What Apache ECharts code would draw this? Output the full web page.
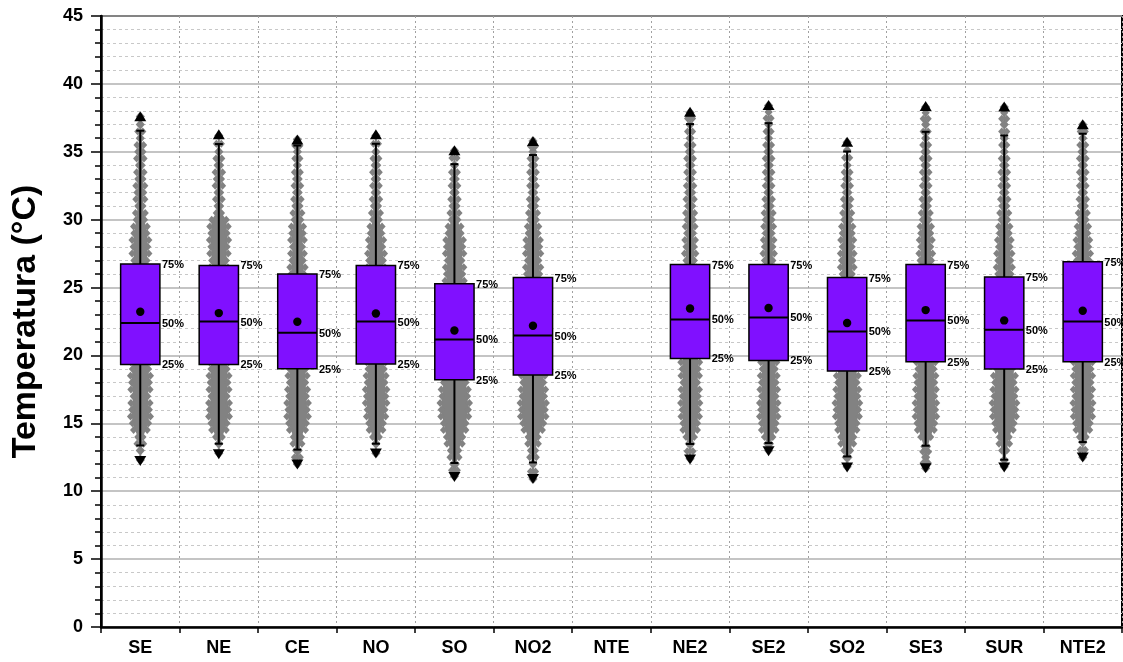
<!DOCTYPE html>
<html><head><meta charset="utf-8">
<script src="https://cdn.jsdelivr.net/npm/echarts@6/dist/echarts.min.js"></script>
<style>html,body{margin:0;padding:0;background:#fff}#c{width:1123px;height:662px}</style>
</head><body><div id="c"></div>
<script>
const categories = ['SE','NE','CE','NO','SO','NO2','NTE','NE2','SE2','SO2','SE3','SUR','NTE2'];
const minVals    = [12.27,12.76,12.00,12.81,11.09,10.94,null,12.37,12.98,11.78,11.73,11.78,12.52];
const lowWhisker = [13.37,13.50,13.06,13.50,12.08,12.12,null,13.48,13.55,12.56,13.35,12.32,13.62];
const q1Vals     = [19.34,19.34,19.02,19.37,18.21,18.56,null,19.78,19.63,18.85,19.54,19.00,19.54];
const medianVals = [22.39,22.50,21.67,22.50,21.18,21.47,null,22.65,22.80,21.77,22.58,21.89,22.50];
const meanVals   = [23.22,23.12,22.48,23.09,21.84,22.19,null,23.46,23.49,22.39,23.34,22.58,23.29];
const q3Vals     = [26.73,26.63,25.99,26.63,25.28,25.74,null,26.70,26.70,25.74,26.70,25.77,26.90];
const highWhisker= [36.55,35.57,35.46,35.59,34.09,34.76,null,37.04,37.11,35.02,36.47,36.20,36.33];
const maxVals    = [37.58,36.25,35.86,36.25,35.07,35.76,null,37.92,38.41,35.71,38.34,38.29,36.99];
const quantileLabels = ['25%','50%','75%'];
// spread of the raw-data point cloud at several temperatures (relative to box half-width)
const cloudSE  = [[12.3,0.15],[13,0.25],[14,0.35],[15,0.7],[16,0.75],[17,0.65],[18,0.75],[19,0.7],[23,0.7],[27,0.6],[28,0.65],[29,0.6],[30,0.45],[31,0.35],[32,0.4],[33,0.35],[34,0.3],[35,0.35],[36,0.25],[37,0.2],[37.6,0.12]];
const cloudNE  = [[12.8,0.15],[13.5,0.25],[14,0.4],[15,0.7],[16,0.8],[17,0.7],[18,0.75],[19,0.7],[23,0.7],[27,0.65],[28,0.7],[29,0.7],[30,0.65],[30.5,0.35],[31,0.3],[32,0.3],[33,0.35],[34,0.3],[35,0.25],[36.2,0.12]];
const cloudCE  = [[12,0.2],[13,0.3],[14,0.45],[15,0.75],[16,0.8],[17,0.75],[18,0.7],[19,0.7],[23,0.7],[26,0.6],[27,0.55],[28,0.5],[29,0.55],[30,0.4],[31,0.35],[32,0.3],[33,0.3],[34,0.25],[35,0.2],[35.9,0.12]];
const cloudNO  = [[12.8,0.15],[13.5,0.25],[14,0.4],[15,0.65],[16,0.75],[17,0.8],[18,0.75],[19,0.7],[23,0.7],[27,0.65],[28,0.6],[29,0.55],[30,0.4],[31,0.35],[32,0.3],[33,0.3],[34,0.3],[35,0.25],[36.2,0.12]];
const cloudSO  = [[11.1,0.15],[12,0.3],[13,0.45],[14,0.7],[15,0.9],[16,1.05],[17,1.0],[18,0.9],[22,0.8],[25,0.7],[26,0.7],[27,0.65],[28,0.7],[29,0.6],[30,0.4],[31,0.35],[32,0.3],[33,0.3],[34,0.25],[35.1,0.12]];
const cloudNO2 = [[10.9,0.15],[12,0.25],[13,0.35],[14,0.5],[15,0.85],[16,0.95],[17,0.9],[18,0.85],[22,0.8],[26,0.6],[27,0.55],[28,0.6],[29,0.5],[30,0.4],[31,0.35],[32,0.3],[33,0.3],[34,0.3],[35,0.25],[35.8,0.12]];
const cloudNTE = [];
const cloudNE2 = [[12.4,0.15],[13.5,0.3],[14,0.45],[15,0.65],[16,0.7],[17,0.7],[18,0.65],[19,0.7],[23,0.6],[27,0.45],[28,0.45],[29,0.4],[30,0.4],[31,0.35],[32,0.35],[33,0.3],[34,0.3],[35,0.3],[36,0.25],[37,0.2],[37.9,0.12]];
const cloudSE2 = [[13,0.15],[13.5,0.3],[14,0.45],[15,0.65],[16,0.7],[17,0.65],[18,0.65],[19,0.6],[23,0.6],[27,0.45],[28,0.45],[29,0.4],[30,0.4],[31,0.35],[32,0.3],[33,0.3],[34,0.3],[35,0.3],[36,0.25],[37,0.2],[38.4,0.12]];
const cloudSO2 = [[11.8,0.15],[12.5,0.3],[13,0.4],[14,0.6],[15,0.8],[16,0.9],[17,0.85],[18,0.8],[22,0.7],[26,0.5],[27,0.55],[28,0.5],[29,0.5],[30,0.4],[31,0.35],[32,0.3],[33,0.3],[34,0.25],[35.7,0.12]];
const cloudSE3 = [[11.7,0.15],[12.5,0.2],[13.3,0.3],[14,0.5],[15,0.75],[16,0.8],[17,0.75],[18,0.75],[19,0.7],[23,0.7],[27,0.55],[28,0.5],[29,0.5],[30,0.4],[31,0.35],[32,0.3],[33,0.3],[34,0.3],[35,0.3],[36,0.25],[37,0.2],[38.3,0.12]];
const cloudSUR = [[11.8,0.15],[12.3,0.25],[13,0.35],[14,0.5],[15,0.8],[16,0.9],[17,0.85],[18,0.8],[22,0.7],[26,0.6],[27,0.6],[28,0.55],[29,0.5],[30,0.4],[31,0.35],[32,0.3],[33,0.3],[34,0.3],[35,0.25],[36,0.25],[37,0.2],[38.3,0.12]];
const cloudNTE2= [[12.5,0.15],[13.6,0.25],[14,0.4],[15,0.65],[16,0.75],[17,0.7],[18,0.7],[19,0.7],[23,0.7],[27,0.6],[28,0.55],[29,0.5],[30,0.4],[31,0.35],[32,0.3],[33,0.3],[34,0.3],[35,0.3],[36,0.25],[37,0.12]];
const clouds = [cloudSE,cloudNE,cloudCE,cloudNO,cloudSO,cloudNO2,cloudNTE,cloudNE2,cloudSE2,cloudSO2,cloudSE3,cloudSUR,cloudNTE2];

const chart = echarts.init(document.getElementById('c'), null, {renderer:'canvas'});
const FONT = 'Arial, "Liberation Sans", sans-serif';
const GRAY = '#828282';

function diamond(x, y, r) {
  return {type:'polygon', shape:{points:[[x,y-r],[x+r*0.9,y],[x,y+r],[x-r*0.9,y]]}, style:{fill:GRAY}};
}

function cloudItem(params, api) {
  const i = api.value(0);
  const prof = clouds[i];
  if (!prof || !prof.length) return null;
  const cx = api.coord([i, 0])[0];
  const unit = api.size([1, 0])[0] * 0.25 * 0.82;
  const pts = prof.map(p => ({w: Math.max(p[1]*unit - 3, 1), y: api.coord([i, p[0]])[1]}));
  const right = pts.map(p => [cx + p.w, p.y]);
  const left = pts.map(p => [cx - p.w*0.95, p.y]).reverse();
  const children = [{type:'polygon', shape:{points: right.concat(left)}, style:{fill:GRAY}}];
  for (let k = 0; k < pts.length; k++) {
    const p = pts[k];
    children.push(diamond(cx + p.w, p.y, 4));
    children.push(diamond(cx - p.w*0.95, p.y, 4));
    if (k + 1 < pts.length) {
      const q = pts[k+1];
      const steps = Math.max(1, Math.round((p.y - q.y) / 7));
      for (let s = 1; s < steps; s++) {
        const t = s / steps;
        const yy = p.y + (q.y - p.y) * t;
        const ww = p.w + (q.w - p.w) * t;
        const jig = (s % 2 ? 1.5 : -1.5);
        children.push(diamond(cx + ww + jig, yy, 4));
        children.push(diamond(cx - ww*0.95 - jig, yy, 4));
      }
    }
  }
  return {type:'group', children};
}

function boxItem(params, api) {
  const i = api.value(0);
  if (q1Vals[i] == null) return null;
  const cx = api.coord([i, 0])[0];
  const hw = api.size([1, 0])[0] * 0.25;
  const y = v => api.coord([i, v])[1];
  const yMin = y(minVals[i]), yLw = y(lowWhisker[i]), yQ1 = y(q1Vals[i]), yMed = y(medianVals[i]);
  const yMean = y(meanVals[i]), yQ3 = y(q3Vals[i]), yHw = y(highWhisker[i]), yMax = y(maxVals[i]);
  const ls = {stroke:'#000', lineWidth:2};
  const txt = (t, yy) => ({type:'text', x: cx + hw + 2, y: yy + 1, style:{text:t, fill:'#000', font:'bold 11px ' + FONT, textAlign:'left', textVerticalAlign:'middle', align:'left', verticalAlign:'middle'}});
  return {type:'group', children:[
    {type:'line', shape:{x1:cx, y1:yQ3, x2:cx, y2:yHw}, style:ls},
    {type:'line', shape:{x1:cx, y1:yQ1, x2:cx, y2:yLw}, style:ls},
    {type:'line', shape:{x1:cx-4, y1:yHw, x2:cx+4, y2:yHw}, style:ls},
    {type:'line', shape:{x1:cx-4, y1:yLw, x2:cx+4, y2:yLw}, style:ls},
    {type:'polygon', shape:{points:[[cx-6,yMax+4.5],[cx+6,yMax+4.5],[cx,yMax-5.5]]}, style:{fill:'#000'}},
    {type:'polygon', shape:{points:[[cx-6,yMin-4.5],[cx+6,yMin-4.5],[cx,yMin+5.5]]}, style:{fill:'#000'}},
    {type:'rect', shape:{x:cx-hw, y:yQ3, width:2*hw, height:yQ1-yQ3}, style:{fill:'#8010ff', stroke:'#000', lineWidth:1.5}},
    {type:'line', shape:{x1:cx-hw, y1:yMed, x2:cx+hw, y2:yMed}, style:ls},
    {type:'circle', shape:{cx:cx, cy:yMean, r:4.2}, style:{fill:'#000'}},
    txt(quantileLabels[2], yQ3), txt(quantileLabels[1], yMed), txt(quantileLabels[0], yQ1)
  ]};
}

const idx = categories.map((c, i) => [i]);

chart.setOption({
  animation:false,
  backgroundColor:'#fff',
  grid:{left:101, right:1, top:16, bottom:35, show:true, borderColor:'#000', borderWidth:2, backgroundColor:'transparent'},
  xAxis:{
    type:'category', data:categories, boundaryGap:true,
    axisLine:{show:true, lineStyle:{color:'#000', width:2.5}},
    axisTick:{show:true, length:6, lineStyle:{color:'#000', width:1.5}},
    axisLabel:{color:'#000', fontSize:18, fontWeight:'bold', fontFamily:FONT, margin:12},
    splitLine:{show:true, lineStyle:{color:'#a0a0a0', type:[2,3], width:1}}
  },
  yAxis:{
    type:'value', min:0, max:45, interval:5,
    name:'Temperatura (°C)', nameLocation:'middle', nameGap:58,
    nameTextStyle:{color:'#000', fontSize:34, fontWeight:'bold', fontFamily:FONT},
    axisLine:{show:true, lineStyle:{color:'#000', width:2.5}},
    axisTick:{show:true, length:10, lineStyle:{color:'#000', width:1.5}},
    minorTick:{show:true, splitNumber:5, length:6, lineStyle:{color:'#000', width:1.5}},
    axisLabel:{color:'#000', fontSize:18, fontWeight:'bold', fontFamily:FONT, margin:18},
    splitLine:{show:true, lineStyle:{color:'#b0b0b0', width:1.5}},
    minorSplitLine:{show:true, lineStyle:{color:'#c8c8c8', type:[3,3], width:1}}
  },
  series:[
    {type:'custom', name:'cloud', renderItem:cloudItem, data:idx, encode:{x:0}, z:2, silent:true},
    {type:'custom', name:'box', renderItem:boxItem, data:idx, encode:{x:0}, z:3, silent:true}
  ]
});
</script></body></html>
